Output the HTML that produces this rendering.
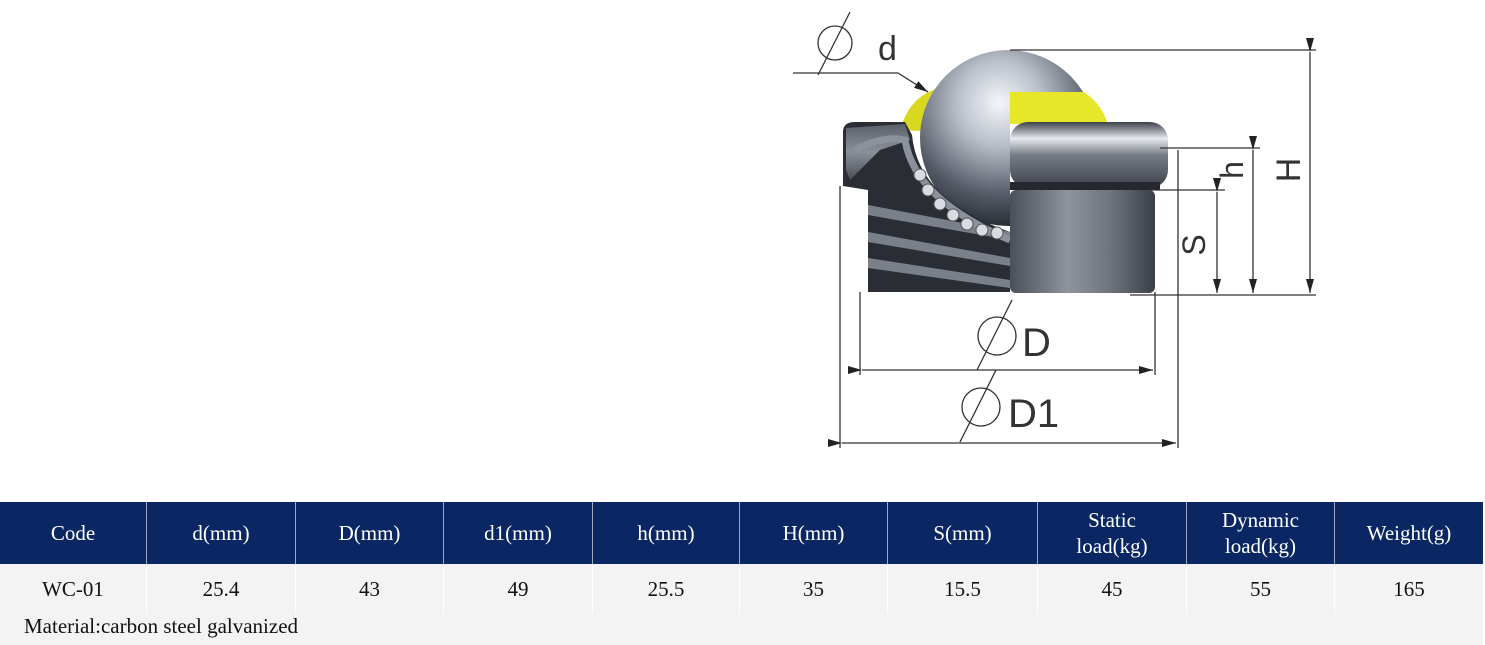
<!DOCTYPE html>
<html><head><meta charset="utf-8">
<style>
html,body{margin:0;padding:0;background:#fff;width:1485px;height:645px;overflow:hidden;position:relative;font-family:"Liberation Serif",serif;}
svg.d{position:absolute;left:0;top:0}
.tbl{position:absolute;left:0;top:502px;width:1483px;}
.hdr{display:flex;height:62px;background:#0b2763;}
.hdr div{color:#fff;font-size:21px;line-height:26px;display:flex;align-items:center;justify-content:center;text-align:center;border-left:1.5px solid #9aa8c4;box-sizing:border-box}
.hdr div:first-child{border-left:none}
.row{display:flex;height:50px;background:#f3f3f3;}
.row div{font-size:21px;color:#111;display:flex;align-items:center;justify-content:center;border-left:1.5px solid #fff;box-sizing:border-box}
.row div:first-child{border-left:none}
.mat{height:31px;background:#f3f3f3;font-size:21px;color:#111;padding-left:24px;line-height:24px}
</style></head><body>
<svg class="d" width="1485" height="500" viewBox="0 0 1485 500">
<defs>
<radialGradient id="ball" cx="0.45" cy="0.3" r="0.7">
<stop offset="0" stop-color="#f4f6fa"/><stop offset="0.35" stop-color="#b8bec8"/><stop offset="0.75" stop-color="#555b66"/><stop offset="1" stop-color="#2a2e35"/></radialGradient>
<linearGradient id="body" x1="0" y1="0" x2="1" y2="0">
<stop offset="0" stop-color="#4a4f5a"/><stop offset="0.4" stop-color="#8e949e"/><stop offset="0.7" stop-color="#6d737d"/><stop offset="1" stop-color="#3a3e46"/></linearGradient>
<linearGradient id="fl" x1="0" y1="0" x2="0" y2="1">
<stop offset="0" stop-color="#3c4048"/><stop offset="0.25" stop-color="#e8eaee"/><stop offset="0.5" stop-color="#767c86"/><stop offset="1" stop-color="#3e424a"/></linearGradient>
<linearGradient id="lf" x1="0" y1="0" x2="0" y2="1">
<stop offset="0" stop-color="#5a5f68"/><stop offset="0.5" stop-color="#8a9098"/><stop offset="1" stop-color="#4a4e56"/></linearGradient>
<clipPath id="lh"><path d="M0,0 H1485 V92 H1010 V500 H0z"/></clipPath>
<marker id="a" markerWidth="14" markerHeight="8" refX="14" refY="4" orient="auto" markerUnits="userSpaceOnUse"><path d="M0,0 L14,4 L0,8z" fill="#222"/></marker>
</defs>
<!-- yellow cup -->
<path d="M900,130 Q910,95 940,88 L940,132z" fill="#d8d820"/>
<path d="M1010,90 L1080,90 Q1100,100 1108,124 L1010,124z" fill="#e6e62a"/>
<!-- ball -->
<circle cx="1008" cy="138" r="88" fill="url(#ball)" clip-path="url(#lh)"/>
<!-- left cutaway -->
<path d="M843,132 Q843,122 855,122 L905,122 L912,135 Q918,200 1010,232 L1010,292 L868,292 L868,190 L843,186z" fill="#2a2d33"/>
<path d="M846,128 L905,124 L910,140 L880,150 L850,180 L846,170z" fill="url(#lf)"/>
<path d="M868,205 L1010,232 L1010,240 L868,215z M868,232 L1010,258 L1010,266 L868,242z M868,258 L1010,280 L1010,288 L868,268z" fill="#7a808a"/>
<path d="M855,150 Q885,135 905,140 Q915,200 1010,240" fill="none" stroke="#8c929c" stroke-width="7"/>
<g fill="#d8dce2" stroke="#555" stroke-width="1">
<circle cx="920" cy="175" r="6"/><circle cx="928" cy="190" r="6"/><circle cx="940" cy="204" r="6"/><circle cx="953" cy="215" r="6"/><circle cx="967" cy="224" r="6"/><circle cx="982" cy="230" r="6"/><circle cx="997" cy="233" r="6"/>
</g>
<!-- right half body -->
<rect x="1010" y="190" width="145" height="103" rx="6" fill="url(#body)"/>
<rect x="1010" y="122" width="158" height="66" rx="18" fill="url(#fl)"/>
<rect x="1010" y="182" width="150" height="8" fill="#25282e"/>
<!-- dimension lines -->
<g stroke="#333" stroke-width="1.3" fill="none">
<line x1="1010" y1="50" x2="1316" y2="50"/>
<line x1="1160" y1="148" x2="1260" y2="148"/>
<line x1="1150" y1="190" x2="1225" y2="190"/>
<line x1="1130" y1="295" x2="1316" y2="295"/>
<line x1="1310" y1="52" x2="1310" y2="293" marker-start="url(#a)" marker-end="url(#a)"/>
<line x1="1253" y1="150" x2="1253" y2="293" marker-start="url(#a)" marker-end="url(#a)"/>
<line x1="1217" y1="192" x2="1217" y2="293" marker-start="url(#a)" marker-end="url(#a)"/>
<line x1="860" y1="292" x2="860" y2="375"/>
<line x1="1155" y1="292" x2="1155" y2="375"/>
<line x1="840" y1="186" x2="840" y2="448"/>
<line x1="1178" y1="150" x2="1178" y2="448"/>
<line x1="862" y1="370" x2="1153" y2="370" marker-start="url(#a)" marker-end="url(#a)"/>
<line x1="842" y1="443" x2="1176" y2="443" marker-start="url(#a)" marker-end="url(#a)"/>
<polyline points="793,73 898,73 928,92" marker-end="url(#a)"/>
<circle cx="835" cy="43" r="17"/><line x1="818" y1="75" x2="850" y2="12"/>
<circle cx="997" cy="336" r="19"/><line x1="977" y1="370" x2="1012" y2="300"/>
<circle cx="981" cy="407" r="19"/><line x1="960" y1="442" x2="996" y2="370"/>
</g>
<g font-family="Liberation Sans Narrow, Liberation Sans, sans-serif" font-size="40" fill="#333">
<text x="878" y="60" font-size="34">d</text>
<text x="1022" y="356">D</text>
<text x="1008" y="427">D1</text>
<text transform="translate(1205,245) rotate(-90)" text-anchor="middle" font-size="32">S</text>
<text transform="translate(1243,170) rotate(-90)" text-anchor="middle" font-size="32">h</text>
<text transform="translate(1300,170) rotate(-90)" text-anchor="middle" font-size="34">H</text>
</g>
</svg>
<div class="tbl">
<div class="hdr">
<div style="width:146px">Code</div><div style="width:149px">d(mm)</div><div style="width:148px">D(mm)</div><div style="width:149px">d1(mm)</div><div style="width:147px">h(mm)</div><div style="width:148px">H(mm)</div><div style="width:150px">S(mm)</div><div style="width:149px">Static<br>load(kg)</div><div style="width:148px">Dynamic<br>load(kg)</div><div style="width:149px">Weight(g)</div>
</div>
<div class="row">
<div style="width:146px">WC-01</div><div style="width:149px">25.4</div><div style="width:148px">43</div><div style="width:149px">49</div><div style="width:147px">25.5</div><div style="width:148px">35</div><div style="width:150px">15.5</div><div style="width:149px">45</div><div style="width:148px">55</div><div style="width:149px">165</div>
</div>
<div class="mat">Material:carbon steel galvanized</div>
</div>
</body></html>
